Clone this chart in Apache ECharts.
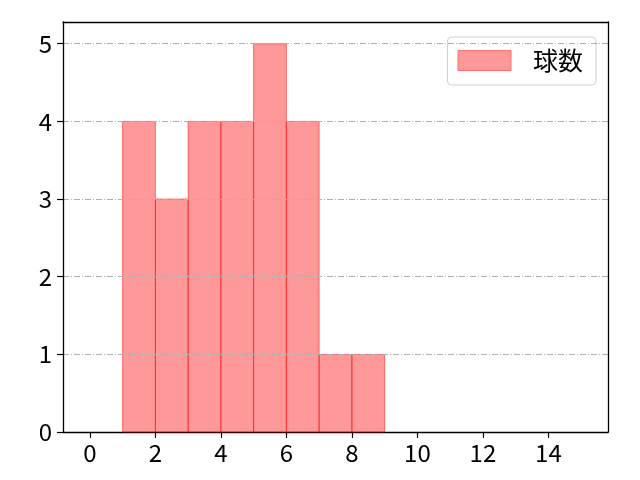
<!DOCTYPE html>
<html>
<head>
<meta charset="utf-8">
<script src="https://cdn.jsdelivr.net/npm/echarts@6/dist/echarts.min.js"></script>
<style>
html, body { margin: 0; padding: 0; background: #fff; }
#main { width: 640px; height: 480px; }
</style>
</head>
<body>
<div id="main"></div>
<script>
// 球数のヒストグラム
var binStarts = [1, 2, 3, 4, 5, 6, 7, 8];
var binWidth = 1;
var counts = [4, 3, 4, 4, 5, 4, 1, 1];
var xTicks = [0, 2, 4, 6, 8, 10, 12, 14];
var yTicks = [0, 1, 2, 3, 4, 5];
var seriesName = '球数';

var myChart = echarts.init(document.getElementById('main'));
var font = 'Noto Sans CJK JP';
var xMin = -0.82, xMax = 15.82, yMax = 5.28;

var histData = binStarts.map(function (s, i) {
	return [s, s + binWidth, counts[i]];
});

var spine = { show: true, onZero: false, lineStyle: { color: '#000', width: 1.3 } };

var option = {
	animation: false,
	grid: { left: 63, right: 32, top: 22, bottom: 48 },
	xAxis: [{
		type: 'value',
		min: xMin,
		max: xMax,
		axisLine: spine,
		axisTick: { show: true, length: 6, customValues: xTicks, lineStyle: { color: '#000', width: 1.2 } },
		axisLabel: { color: '#000', fontSize: 24, fontFamily: font, margin: 9, customValues: xTicks },
		splitLine: { show: false }
	}, {
		type: 'value',
		position: 'top',
		min: xMin,
		max: xMax,
		axisLine: spine,
		axisTick: { show: false },
		axisLabel: { show: false },
		splitLine: { show: false }
	}],
	yAxis: [{
		type: 'value',
		min: 0,
		max: yMax,
		z: 5,
		axisLine: spine,
		axisTick: { show: true, length: 6, customValues: yTicks, lineStyle: { color: '#000', width: 1.2 } },
		axisLabel: { color: '#000', fontSize: 24, fontFamily: font, margin: 11, customValues: yTicks },
		splitLine: { show: false }
	}, {
		type: 'value',
		position: 'right',
		min: 0,
		max: yMax,
		interval: 1,
		z: 5,
		axisLine: spine,
		axisTick: { show: false },
		axisLabel: { show: false },
		splitLine: { show: true, showMinLine: false, showMaxLine: false, lineStyle: { color: '#b0b0b0', width: 1, type: [6, 2, 1, 2] } }
	}],
	legend: {
		show: true,
		right: 44,
		top: 37,
		padding: [11, 13, 12, 10],
		itemWidth: 53,
		itemHeight: 20,
		itemGap: 10,
		borderColor: '#d0d0d0',
		borderWidth: 1,
		borderRadius: 4,
		backgroundColor: 'rgba(255,255,255,0.8)',
		textStyle: { color: '#000', fontSize: 25, fontFamily: font, padding: [0, 0, 0, 17] },
		data: [{ name: seriesName, icon: 'rect', itemStyle: { color: '#ff9999', borderColor: '#ff7070', borderWidth: 1 } }]
	},
	series: [{
		name: seriesName,
		type: 'custom',
		z: 2,
		itemStyle: { color: '#ff9999' },
		renderItem: function (params, api) {
			var p0 = api.coord([api.value(0), api.value(2)]);
			var p1 = api.coord([api.value(1), 0]);
			return {
				type: 'rect',
				shape: { x: p0[0], y: p0[1], width: p1[0] - p0[0], height: p1[1] - p0[1] },
				style: { fill: 'rgba(255,0,0,0.4)', stroke: 'rgba(255,0,0,0.5)', lineWidth: 1 }
			};
		},
		encode: { x: [0, 1], y: 2 },
		data: histData
	}]
};
myChart.clear();
myChart.setOption(option);
</script>
</body>
</html>
